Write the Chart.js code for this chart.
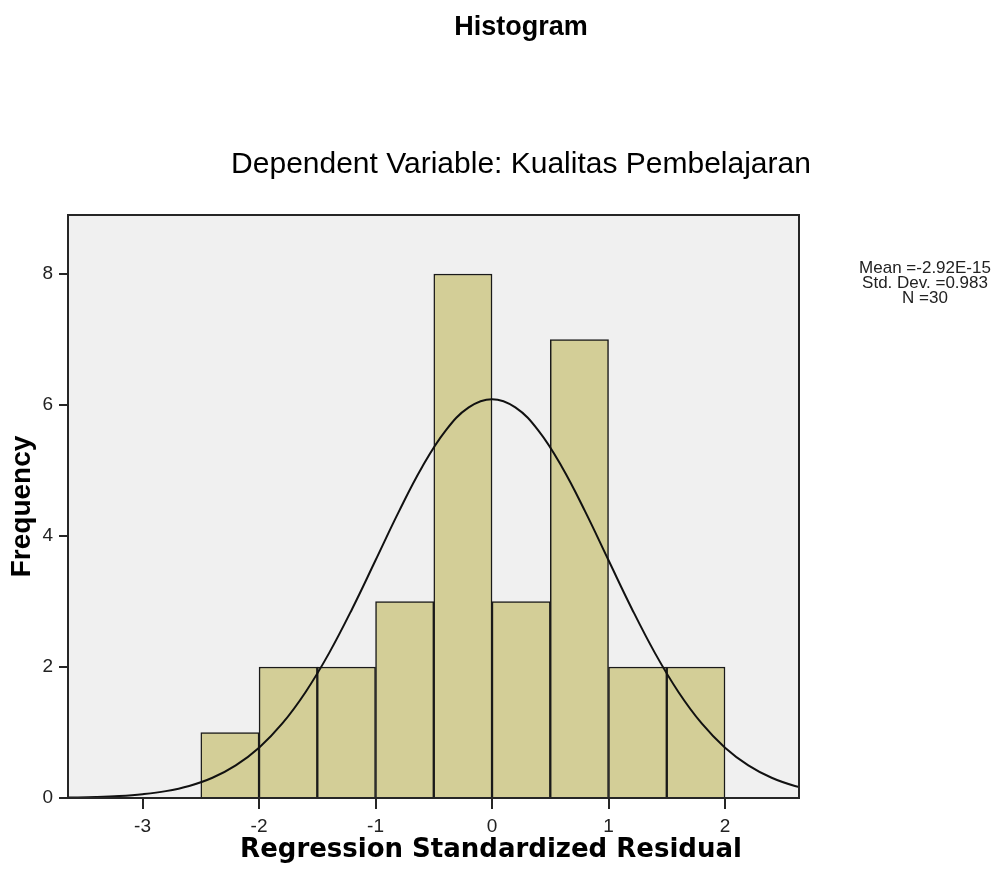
<!DOCTYPE html>
<html>
<head>
<meta charset="utf-8">
<title>Histogram</title>
<script src="https://cdn.jsdelivr.net/npm/chart.js@4/dist/chart.umd.min.js"></script>
<style>
  body { margin: 0; background: #fff; }
  #histogram { display: block; }
</style>
</head>
<body>
<canvas id="histogram" width="1006" height="888"></canvas>
<script>
// bins of width 0.5
const binCenters = [-2.25, -1.75, -1.25, -0.75, -0.25, 0.25, 0.75, 1.25, 1.75];
const frequencies = [1, 2, 2, 3, 8, 3, 7, 2, 2];

// normal curve
const curveX = [-3.8, -3.6, -3.4, -3.2, -3.0, -2.8, -2.6, -2.4, -2.2, -2.0, -1.8, -1.6, -1.4, -1.2, -1.0,
  -0.8, -0.6, -0.4, -0.2, 0, 0.2, 0.4, 0.6, 0.8, 1.0, 1.2, 1.4, 1.6, 1.8, 2.0, 2.2, 2.4, 2.6, 2.8];
const curveY = [0.004, 0.008, 0.015, 0.03, 0.058, 0.105, 0.184, 0.309, 0.498, 0.768, 1.138, 1.619, 2.208, 2.89, 3.629,
  4.372, 5.053, 5.604, 5.963, 6.088, 5.963, 5.604, 5.053, 4.372, 3.629, 2.89, 2.208, 1.619, 1.138, 0.768, 0.498, 0.309, 0.184, 0.105];

const yTicks = [0, 2, 4, 6, 8];
const xTicks = [-3, -2, -1, 0, 1, 2];

const chartTitle = "Histogram";
const chartSubtitle = "Dependent Variable: Kualitas Pembelajaran";
const xTitle = "Regression Standardized Residual";
const yTitle = "Frequency";
const statLines = ["Mean =-2.92E-15", "Std. Dev. =0.983", "N =30"];

const plotFrame = {
  id: "plotFrame",
  beforeDatasetsDraw(chart) {
    const { ctx, chartArea: a } = chart;
    ctx.save();
    ctx.fillStyle = "#f0f0f0";
    ctx.fillRect(a.left, a.top, a.right - a.left, a.bottom - a.top);
    ctx.restore();
  },
  afterDraw(chart) {
    const { ctx, chartArea: a } = chart;
    ctx.save();
    ctx.strokeStyle = "#262626";
    ctx.lineWidth = 2;
    ctx.strokeRect(a.left, a.top, a.right - a.left, a.bottom - a.top);

    ctx.fillStyle = "#000";
    ctx.textAlign = "center";
    ctx.textBaseline = "middle";
    ctx.font = 'bold 27px "Liberation Sans", Arial, sans-serif';
    ctx.fillText(chartTitle, 521, 28);
    ctx.font = '30px "Liberation Sans", Arial, sans-serif';
    ctx.fillText(chartSubtitle, 521, 165);
    ctx.font = 'bold 26px "DejaVu Sans", sans-serif';
    ctx.fillText(xTitle, 491, 850);

    ctx.fillStyle = "#222";
    ctx.font = '17px "Liberation Sans", Arial, sans-serif';
    statLines.forEach((line, i) => ctx.fillText(line, 925, 268 + i * 15));
    ctx.restore();
  }
};

const ctx = document.getElementById("histogram").getContext("2d");
const chart = new Chart(ctx, {
  data: {
    datasets: [
      {
        type: "line",
        label: "Normal",
        data: curveX.map((x, i) => ({ x: x, y: curveY[i] })),
        borderColor: "#111",
        borderWidth: 2,
        pointRadius: 0,
        tension: 0.4,
        order: 0
      },
      {
        type: "bar",
        label: "Frequency",
        data: binCenters.map((x, i) => ({ x: x, y: frequencies[i] })),
        backgroundColor: "#d3ce97",
        borderColor: "#1a1a1a",
        borderWidth: 1.5,
        barPercentage: 1,
        categoryPercentage: 1,
        order: 1
      }
    ]
  },
  options: {
    responsive: false,
    devicePixelRatio: 1,
    animation: false,
    layout: {
      padding: { top: 215, right: 207, left: 0, bottom: 0 }
    },
    scales: {
      x: {
        type: "linear",
        offset: false,
        min: -3.64,
        max: 2.635,
        afterFit: (scale) => { scale.height = 90; },
        afterBuildTicks: (scale) => { scale.ticks = xTicks.map(v => ({ value: v })); },
        border: { display: true, color: "#262626", width: 2 },
        grid: { offset: false, drawOnChartArea: false, drawTicks: true, tickLength: 11, color: "#262626", lineWidth: 2 },
        ticks: {
          color: "#222",
          padding: 6,
          font: { family: '"Liberation Sans", Arial, sans-serif', size: 19 }
        }
      },
      y: {
        min: 0,
        max: 8.9,
        afterFit: (scale) => { scale.width = 68; },
        afterBuildTicks: (scale) => { scale.ticks = yTicks.map(v => ({ value: v })); },
        border: { display: true, color: "#262626", width: 2 },
        grid: { drawOnChartArea: false, drawTicks: true, tickLength: 9, color: "#262626", lineWidth: 2 },
        ticks: {
          color: "#222",
          padding: 6,
          font: { family: '"Liberation Sans", Arial, sans-serif', size: 19 }
        },
        title: {
          display: true,
          text: yTitle,
          color: "#000",
          padding: { top: 5, bottom: 0 },
          font: { family: '"Liberation Sans", Arial, sans-serif', size: 28, weight: "bold" }
        }
      }
    },
    plugins: {
      legend: { display: false },
      tooltip: { enabled: false }
    }
  },
  plugins: [plotFrame]
});
</script>
</body>
</html>
